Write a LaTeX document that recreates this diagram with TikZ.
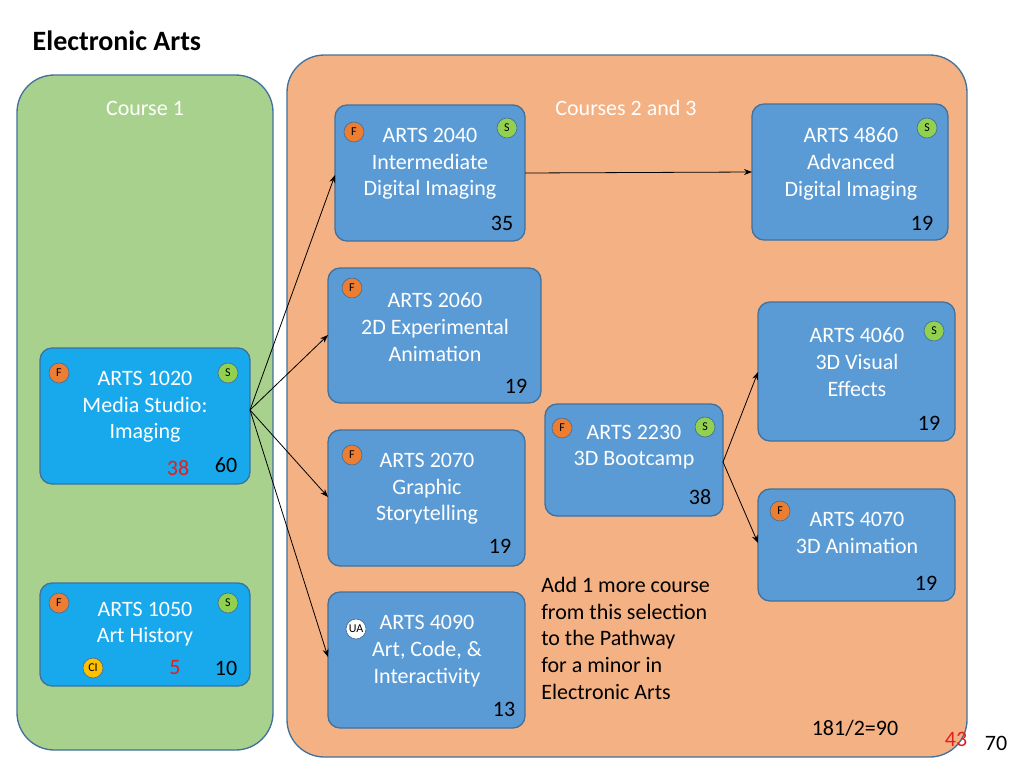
\documentclass[tikz,border=0pt]{standalone}
\usepackage{fontspec}
\setmainfont{Carlito}
\usetikzlibrary{arrows.meta}
\definecolor{grn}{HTML}{A9D18E}
\definecolor{org}{HTML}{F4B183}
\definecolor{bx}{HTML}{5B9BD5}
\definecolor{bxb}{HTML}{41719C}
\definecolor{cy}{HTML}{17A9EC}
\definecolor{bf}{HTML}{ED7D31}
\definecolor{bs}{HTML}{92D050}
\definecolor{bc}{HTML}{FFC000}
\definecolor{rd}{HTML}{E02020}
\begin{document}
\begin{tikzpicture}[x=0.75pt,y=-0.75pt,
  panel/.style={draw=bxb,line width=1pt,rounded corners=28pt},
  course/.style={draw=bxb,fill=bx,line width=1pt,rounded corners=9pt},
  ctext/.style={text=white,font=\fontsize{16.5}{20}\selectfont,align=center},
  num/.style={font=\fontsize{16.5}{20}\selectfont},
  badge/.style={circle,draw=bxb,line width=0.5pt,inner sep=0pt,minimum size=15pt,font=\fontsize{9}{10}\selectfont},
  fb/.style={badge,fill=bf},
  sb/.style={badge,fill=bs},
  arr/.style={-{Stealth[length=6pt]},line width=0.6pt}]
\useasboundingbox (0,0) rectangle (1024,768);
\node[anchor=west,font=\bfseries\fontsize{21}{24}\selectfont] (title) at (28,41) {Electronic Arts};
\draw[panel,fill=grn] (17,75) rectangle (273,750);
\draw[panel,fill=org] (287,55) rectangle (967,757);
\node[text=white,font=\fontsize{16.5}{20}\selectfont] (c1) at (145,108) {Course 1};
\node[text=white,font=\fontsize{16.5}{20}\selectfont] (c23) at (626,108) {Courses 2 and 3};
% boxes
\draw[course,fill=cy] (40,348) rectangle (250,484);
\coordinate (a1020) at (250,410);
\node[ctext] (t1020) at (145,407) {ARTS 1020\\Media Studio:\\Imaging};
\node[fb] (f1020) at (59,373) {F}; \node[sb] (s1020) at (228,373) {S};
\node[num,text=rd] (r1020) at (178,468) {38}; \node[num] (n1020) at (226,465) {60};

\draw[course,fill=cy] (40,583) rectangle (250,686);
\node[ctext] (t1050) at (145,624) {ARTS 1050\\Art History};
\node[fb] (f1050) at (59,603) {F}; \node[sb] (s1050) at (228,603) {S};
\node[badge,fill=bc] (ci) at (93,668) {CI};
\node[num,text=rd] (r1050) at (175,668) {5}; \node[num] (n1050) at (226,668) {10};

\draw[course] (335,105) rectangle (525,241);
\node[ctext] (t2040) at (430,164) {ARTS 2040\\Intermediate\\Digital Imaging};
\node[fb] (f2040) at (354,132) {F}; \node[sb] (s2040) at (507,128) {S};
\node[num] (n2040) at (502,223) {35};

\draw[course] (328,268) rectangle (541,403);
\node[ctext] (t2060) at (435,327) {ARTS 2060\\2D Experimental\\Animation};
\node[fb] (f2060) at (352,288) {F};
\node[num] (n2060) at (516,386) {19};

\draw[course] (328,430) rectangle (525,566);
\node[ctext] (t2070) at (427,489) {ARTS 2070\\Graphic\\Storytelling};
\node[fb] (f2070) at (352,455) {F};
\node[num] (n2070) at (500,546) {19};

\draw[course] (328,592) rectangle (525,728);
\node[ctext] (t4090) at (427,651) {ARTS 4090\\Art, Code, \&\\Interactivity};
\node[badge,fill=white] (ua) at (356,629) {UA};
\node[num] (n4090) at (504,709) {13};

\draw[course] (545,404) rectangle (723,516);
\node[ctext] (t2230) at (634,447) {ARTS 2230\\3D Bootcamp};
\node[fb] (f2230) at (562,428) {F}; \node[sb] (s2230) at (705,427) {S};
\node[num] (n2230) at (700,497) {38};

\draw[course] (752,104) rectangle (948,240);
\node[ctext] (t4860) at (851,164) {ARTS 4860\\Advanced\\Digital Imaging};
\node[sb] (s4860) at (927,128) {S};
\node[num] (n4860) at (922,223) {19};

\draw[course] (758,302) rectangle (955,441);
\node[ctext] (t4060) at (857,362) {ARTS 4060\\3D Visual\\Effects};
\node[sb] (s4060) at (934,331) {S};
\node[num] (n4060) at (929,423) {19};

\draw[course] (758,489) rectangle (955,601);
\node[ctext] (t4070) at (857,533) {ARTS 4070\\3D Animation};
\node[fb] (f4070) at (780,511) {F};
\node[num] (n4070) at (926,583) {19};

\coordinate (i2040) at (335,175); \coordinate (i2060) at (328,335);
\coordinate (i2070) at (328,497); \coordinate (i4090) at (328,657);
\coordinate (o2040) at (525,173); \coordinate (i4860) at (752,172);
\coordinate (o2230) at (723,462); \coordinate (i4060) at (758,372); \coordinate (i4070) at (758,543);
\draw[arr] (a1020) -- (i2040);
\draw[arr] (a1020) -- (i2060);
\draw[arr] (a1020) -- (i2070);
\draw[arr] (a1020) -- (i4090);
\draw[arr] (o2040) -- (i4860);
\draw[arr] (o2230) -- (i4060);
\draw[arr] (o2230) -- (i4070);

\node[num,anchor=north west,align=left,inner sep=0pt] (note) at (541,577) {Add 1 more course\\from this selection\\to the Pathway\\for a minor in\\Electronic Arts};
\node[num] (tot) at (855,728) {181/2=90};
\node[num,text=rd] (r43) at (956,739) {43};
\node[num] (n70) at (996,743) {70};
\end{tikzpicture}
\end{document}
